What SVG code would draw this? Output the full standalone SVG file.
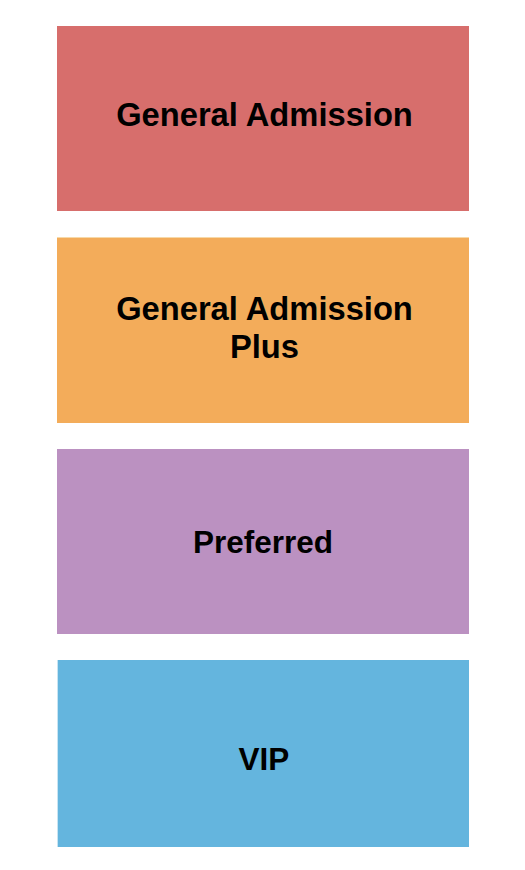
<svg xmlns="http://www.w3.org/2000/svg" width="525" height="870" viewBox="0 0 525 870">
<style>
.lbl{font-family:"Liberation Sans",Arial,sans-serif;font-weight:bold;font-size:31.5px;fill:#000;text-anchor:middle}
.ga{font-size:32.7px}
</style>
<rect width="525" height="870" fill="#fff"/>
<g id="general-admission">
<rect x="57" y="26" width="412" height="185" fill="#D76E6C"/>
<text class="lbl ga" x="264.5" y="125.5">General Admission</text>
</g>
<g id="general-admission-plus">
<rect x="57" y="237" width="412" height="186" fill="#F3AC5A"/>
<line x1="57" y1="237.5" x2="469" y2="237.5" stroke="#F7D9A8" stroke-width="1"/>
<text class="lbl ga" x="264.5" y="320">General Admission</text>
<text class="lbl ga" x="264.5" y="358">Plus</text>
</g>
<g id="preferred">
<rect x="57" y="449" width="412" height="185" fill="#BB91C1"/>
<text class="lbl" x="263" y="552.5">Preferred</text>
</g>
<g id="vip">
<rect x="57" y="660" width="412" height="187" fill="#64B5DE"/>
<line x1="57.5" y1="660" x2="57.5" y2="847" stroke="#C8E4F2" stroke-width="1"/>
<text class="lbl" x="264" y="770">VIP</text>
</g>
<g id="connectors"/>
</svg>
